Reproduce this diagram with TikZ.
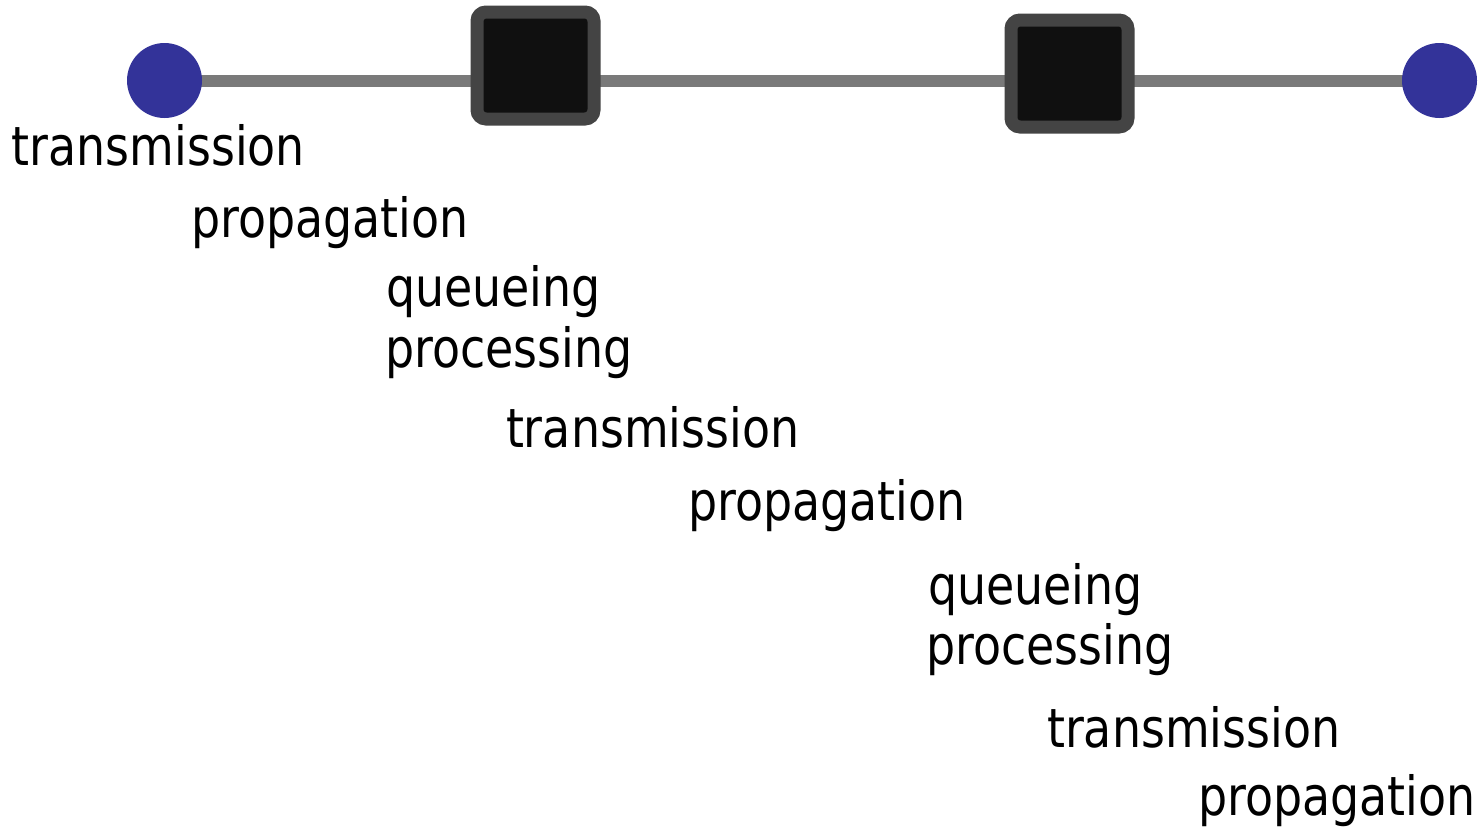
\documentclass[tikz,border=0pt]{standalone}
\usepackage{fontspec}
\setmainfont[FakeStretch=0.85]{DejaVu Sans}
\pgfdeclarelayer{background}
\pgfsetlayers{background,main}
\definecolor{hostblue}{HTML}{333399}
\definecolor{linkgray}{HTML}{7A7A7A}
\definecolor{routerborder}{HTML}{444444}
\definecolor{routerfill}{HTML}{101010}
\begin{document}
\begin{tikzpicture}[x=1pt,y=-1pt,
  host/.style={circle,fill=hostblue,draw=none,minimum size=75pt,inner sep=0pt},
  router/.style={rectangle,rounded corners=9pt,fill=routerfill,draw=routerborder,line width=13pt,minimum width=117pt,minimum height=107pt,inner sep=0pt},
  link/.style={draw=linkgray,line width=12pt},
  lbl/.style={anchor=base west,inner sep=0pt,outer sep=0pt,font=\fontsize{54}{60}\selectfont,text=black}]
\useasboundingbox (0,0) rectangle (1484,830);
\node[host] (h1) at (164.5,80.5) {};
\node[host] (h2) at (1439.5,80.5) {};
\node[router] (r1) at (535.5,65.5) {};
\node[router] (r2) at (1069.5,73.5) {};
\begin{pgfonlayer}{background}
\path[link] (h1.center) -- (h2.center);
\end{pgfonlayer}
\node[lbl] (t1) at (11.8,165) {transmission};
\node[lbl] (t2) at (191,237) {propagation};
\node[lbl] (t3) at (386,306) {queueing};
\node[lbl] (t4) at (385,367) {processing};
\node[lbl] (t5) at (506,447) {transmission};
\node[lbl] (t6) at (688,520) {propagation};
\node[lbl] (t7) at (928,604) {queueing};
\node[lbl] (t8) at (926,664) {processing};
\node[lbl] (t9) at (1047,747) {transmission};
\node[lbl] (t10) at (1198,815) {propagation};
\end{tikzpicture}
\end{document}
